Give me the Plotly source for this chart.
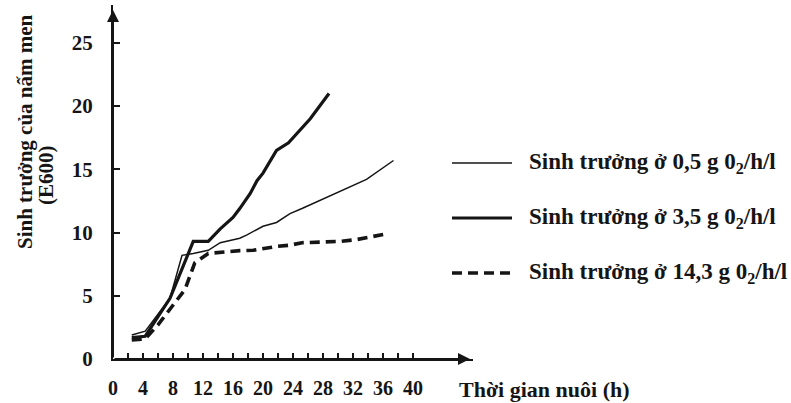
import plotly.graph_objects as go

# ---- data ----
x_05 = [2.5, 4.3, 7.6, 9.2, 10.7, 12.7, 14.3, 16.9, 17.8, 20.0, 21.8, 23.6, 25.2, 26.7, 29.4, 31.6, 33.8, 37.4]
y_05 = [1.9, 2.2, 4.8, 8.2, 8.35, 8.6, 9.2, 9.55, 9.8, 10.5, 10.8, 11.5, 11.9, 12.3, 13.0, 13.6, 14.2, 15.7]

x_35 = [2.5, 4.3, 7.6, 10.7, 12.7, 14.3, 16.0, 16.9, 18.3, 19.2, 20.0, 21.8, 23.4, 26.3, 28.8]
y_35 = [1.7, 1.8, 4.8, 9.3, 9.3, 10.3, 11.2, 11.9, 13.1, 14.1, 14.7, 16.5, 17.1, 19.0, 21.0]

x_143 = [2.5, 4.3, 6.0, 9.6, 10.9, 12.7, 16.9, 18.7, 21.8, 23.6, 25.2, 29.3, 30.3, 32.5, 36.5]
y_143 = [1.5, 1.6, 2.7, 5.5, 7.6, 8.35, 8.57, 8.6, 8.9, 9.0, 9.2, 9.3, 9.3, 9.45, 9.9]

x_ticks = [0, 4, 8, 12, 16, 20, 24, 28, 32, 36, 40]
x_minor = [2, 6, 10, 14, 18, 22, 26, 30, 34, 38]
y_ticks = [0, 5, 10, 15, 20, 25]

legend_names = [
    "Sinh trưởng ở 0,5 g 0<sub>2</sub>/h/l",
    "Sinh trưởng ở 3,5 g 0<sub>2</sub>/h/l",
    "Sinh trưởng ở 14,3 g 0<sub>2</sub>/h/l",
]
y_title_1 = "Sinh trưởng của nấm men"
y_title_2 = "(E600)"
x_title = "Thời gian nuôi (h)"

FONT = "Liberation Serif"
INK = "#151515"

styles = [
    dict(width=1.5, dash="solid"),
    dict(width=3.2, dash="solid"),
    dict(width=3.6, dash="10px,6px"),
]

fig = go.Figure()
for xs, ys, name, st in zip([x_05, x_35, x_143], [y_05, y_35, y_143], legend_names, styles):
    fig.add_trace(go.Scatter(x=xs, y=ys, mode="lines", name=name,
                             line=dict(color=INK, width=st["width"], dash=st["dash"]),
                             showlegend=False))

W, H = 791, 403
L, R, T, B = 113, 318, 5, 44
pw, ph = W - L - R, H - T - B

def px(xp):
    return (xp - L) / pw

def py(yp):
    return (H - B - yp) / ph

fig.update_layout(
    width=W, height=H,
    margin=dict(l=L, r=R, t=T, b=B),
    paper_bgcolor="white", plot_bgcolor="white",
    font=dict(family=FONT, color=INK, size=20, weight="bold"),
    xaxis=dict(range=[0, 48], tickvals=x_ticks, ticks="inside", ticklen=6, tickwidth=1.5,
               tickcolor=INK, showline=True, linecolor=INK, linewidth=2, showgrid=False,
               zeroline=False, ticklabelstandoff=10,
               tickfont=dict(family=FONT, size=20, color=INK, weight="bold"),
               minor=dict(tickvals=x_minor, ticks="inside", ticklen=6, tickwidth=1.5, tickcolor=INK)),
    yaxis=dict(range=[0, 28], tickvals=y_ticks, ticks="inside", ticklen=7, tickwidth=1.5,
               tickcolor=INK, showline=True, linecolor=INK, linewidth=2, showgrid=False,
               zeroline=False, ticklabelstandoff=14,
               tickfont=dict(family=FONT, size=21, color=INK, weight="bold")),
)

# axis arrows
fig.add_annotation(x=47.6, y=0, ax=0, ay=0, xref="x", yref="y", axref="x", ayref="y",
                   text="", showarrow=True, arrowhead=2, arrowsize=1.2, arrowwidth=2, arrowcolor=INK)
fig.add_annotation(x=0, y=27.6, ax=0, ay=0, xref="x", yref="y", axref="x", ayref="y",
                   text="", showarrow=True, arrowhead=2, arrowsize=1.2, arrowwidth=2, arrowcolor=INK)

# axis titles
fig.add_annotation(text=y_title_1, xref="paper", yref="paper", x=px(25), y=py(132),
                   textangle=-90, showarrow=False, xanchor="center", yanchor="middle",
                   font=dict(family=FONT, size=21, color=INK, weight="bold"))
fig.add_annotation(text=y_title_2, xref="paper", yref="paper", x=px(46), y=py(175),
                   textangle=-90, showarrow=False, xanchor="center", yanchor="middle",
                   font=dict(family=FONT, size=21, color=INK, weight="bold"))
fig.add_annotation(text=x_title, xref="paper", yref="paper", x=px(544), y=py(390),
                   showarrow=False, xanchor="center", yanchor="middle",
                   font=dict(family=FONT, size=22, color=INK, weight="bold"))

# custom legend
rows = [163, 218, 273]
for name, st, ry in zip(legend_names, styles, rows):
    fig.add_shape(type="line", xref="paper", yref="paper", x0=px(452), x1=px(512),
                  y0=py(ry), y1=py(ry), line=dict(color=INK, width=st["width"], dash=st["dash"]))
    fig.add_annotation(text=name, xref="paper", yref="paper", x=px(527), y=py(ry),
                       showarrow=False, xanchor="left", yanchor="middle",
                       font=dict(family=FONT, size=23, color=INK, weight="bold"))

fig.write_html("out.html", config={"displayModeBar": False},
               post_script="document.body.style.margin='0px';document.body.style.overflow='hidden';")
